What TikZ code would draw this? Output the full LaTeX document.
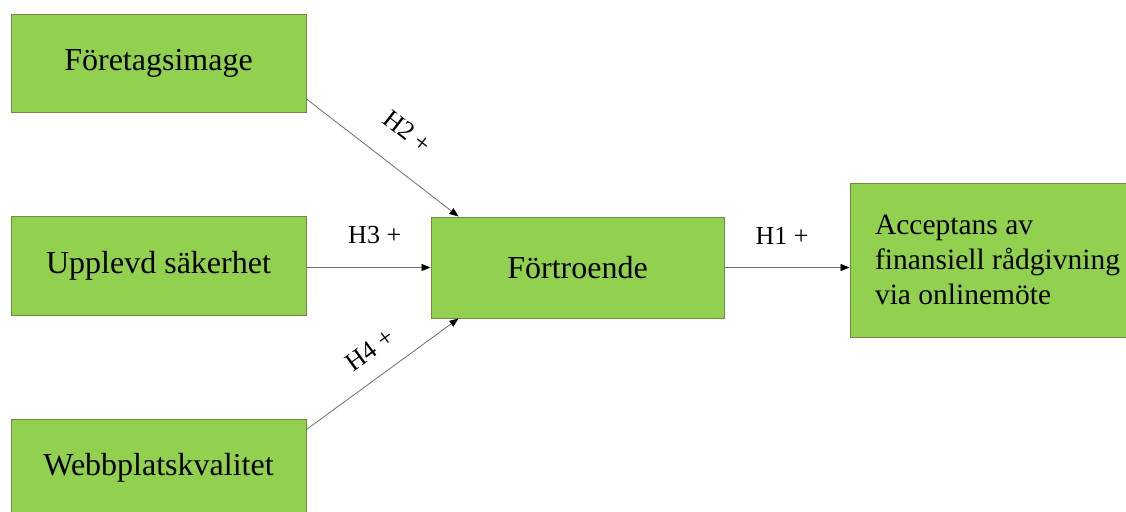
\documentclass[tikz,border=0pt]{standalone}
\usepackage{fontspec}
\setmainfont{Liberation Serif}
\usepackage{tikz}
\usetikzlibrary{arrows.meta}
\definecolor{boxgreen}{HTML}{92D050}
\definecolor{boxedge}{HTML}{6F8B45}
\definecolor{linkgray}{HTML}{6E6E6E}

\begin{document}
\begin{tikzpicture}[x=1pt,y=-1pt,
        box/.style={draw=boxedge,fill=boxgreen,line width=1pt,minimum width=295pt,minimum height=98pt,inner sep=0pt,font=\fontsize{32}{35}\selectfont},
        link/.style={draw=linkgray,line width=0.8pt,-{Triangle[length=9pt,width=7pt,black]}},
        hyp/.style={inner sep=0pt,font=\fontsize{26}{28}\selectfont}]
        \useasboundingbox (0,0) rectangle (1126,511);
        \clip (0,0) rectangle (1126,511);
        \node[box] (img) at (158.5,63.5) {Företagsimage};
        \node[box,minimum height=99pt] (sak) at (158.5,265.5) {Upplevd säkerhet};
        \node[box] (web) at (158.5,468) {Webbplatskvalitet};
        \node[box,minimum width=293pt,minimum height=101pt] (tro) at (577.5,267.5) {Förtroende};
        \node[box,minimum height=154pt,align=left,font=\fontsize{29.5}{35}\selectfont] (acc) at (997.5,260)
                {Acceptans av\\finansiell rådgivning\\via onlinemöte};
        \draw[link] ([yshift=14pt]img.south east) -- ([xshift=28pt]tro.north west)
                node[hyp,sloped,above=27pt,pos=0.52] {H2 +};
        \draw[link] (sak.east |- tro.west) -- (tro.west)
                node[hyp,above=23pt,pos=0.55] {H3 +};
        \draw[link] ([yshift=-11pt]web.north east) -- ([xshift=28pt]tro.south west)
                node[hyp,sloped,above=18pt,pos=0.52] {H4 +};
        \draw[link] (tro.east) -- (acc.west |- tro.east)
                node[hyp,above=23pt,pos=0.46] {H1 +};
\end{tikzpicture}
\end{document}
